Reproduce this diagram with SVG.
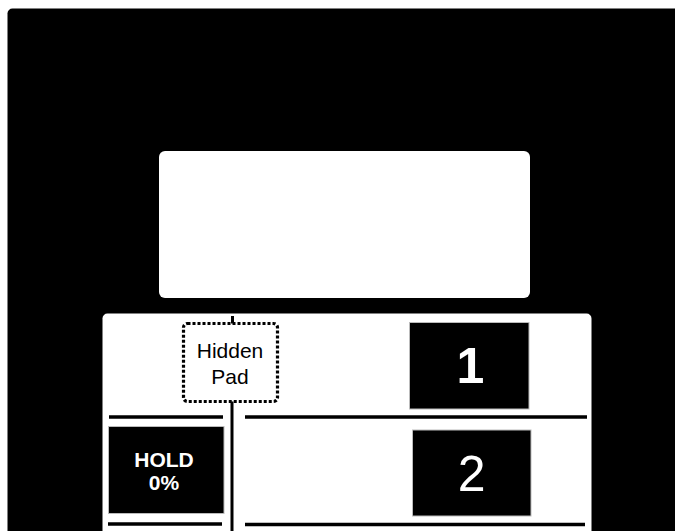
<svg xmlns="http://www.w3.org/2000/svg" width="675" height="531" viewBox="0 0 675 531">
  <style>
    .panel { fill: #ffffff; }
    .box { fill: #000000; stroke: #bbbbbb; stroke-width: 1; }
    .rule { stroke: #000000; stroke-width: 3.5; fill: none; }
    .conn { stroke: #000000; stroke-width: 3; fill: none; }
    .pad { fill: #ffffff; stroke: #000000; stroke-width: 3.2; stroke-dasharray: 3 2; }
    .lbl { font-family: "Liberation Sans", Arial, sans-serif; text-anchor: middle; }
  </style>
  <rect width="675" height="531" fill="#ffffff"/>
  <g id="device">
    <rect x="7.5" y="8.5" width="700" height="560" rx="5" fill="#000000"/>
  </g>
  <g id="screen">
    <rect class="panel" x="159" y="151" width="371" height="147" rx="6"/>
  </g>
  <g id="lower-panel">
    <rect class="panel" x="102.5" y="313.5" width="489" height="240" rx="5"/>
  </g>
  <g id="rules">
    <line class="rule" x1="109" y1="417" x2="223" y2="417"/>
    <line class="rule" x1="245" y1="417" x2="587" y2="417"/>
    <line class="rule" x1="108" y1="524" x2="222" y2="524"/>
    <line class="rule" x1="245" y1="524.5" x2="585" y2="524.5"/>
  </g>
  <g id="connectors">
    <line class="conn" x1="232.5" y1="316" x2="232.5" y2="324"/>
    <line class="conn" x1="232" y1="401" x2="232" y2="531"/>
  </g>
  <g id="hidden-pad">
    <rect class="pad" x="183.5" y="323.5" width="94" height="78" rx="4"/>
    <text class="lbl" x="230" y="358" font-size="21" fill="#000000">Hidden</text>
    <text class="lbl" x="230" y="384" font-size="21" fill="#000000">Pad</text>
  </g>
  <g id="hold">
    <rect class="box" x="108.5" y="426.5" width="115.5" height="87"/>
    <text class="lbl" x="164" y="466.5" font-size="21" font-weight="bold" fill="#ffffff">HOLD</text>
    <text class="lbl" x="164" y="490" font-size="21" font-weight="bold" fill="#ffffff">0%</text>
  </g>
  <g id="button-1">
    <rect class="box" x="409.5" y="322.5" width="119.5" height="86.5"/>
    <text class="lbl" x="470.5" y="383.3" font-size="50" font-weight="bold" fill="#ffffff">1</text>
  </g>
  <g id="button-2">
    <rect class="box" x="412.5" y="430" width="118.5" height="86"/>
    <text class="lbl" x="471.7" y="490.7" font-size="50" fill="#ffffff">2</text>
  </g>
</svg>
